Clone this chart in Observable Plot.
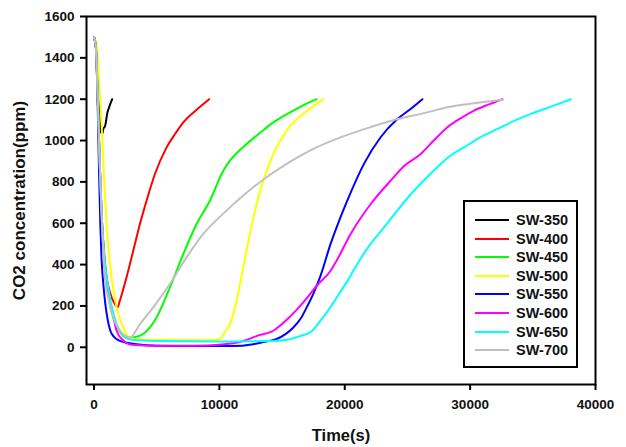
<!DOCTYPE html>
<html>
<head>
<meta charset="utf-8">
<script src="https://cdn.jsdelivr.net/npm/d3@7"></script>
<script src="https://cdn.jsdelivr.net/npm/@observablehq/plot@0.6"></script>
<style>
  html, body { margin: 0; padding: 0; background: #fff; }
  #wrap { position: relative; width: 626px; height: 447px; font-family: Arial, "Liberation Sans", sans-serif; }
  #wrap svg text { font-weight: bold; fill: #111; }
  #wrap g[aria-label="x-axis label"] text { font-size: 16.5px; }
  #wrap g[aria-label="y-axis label"] text { font-size: 17px; }
  #legend { position: absolute; left: 463px; top: 200px; width: 111px; height: 164px; border: 2px solid #000; background: #fff; }
  .row { position: absolute; left: 0; height: 18px; width: 111px; }
  .sw { position: absolute; left: 10px; top: 8px; width: 34px; height: 2px; }
  .lab { position: absolute; left: 51px; top: 0; font-weight: bold; font-size: 14.5px; line-height: 18px; color: #111; }
</style>
</head>
<body>
<div id="wrap"></div>
<script>
const names = ["SW-350","SW-400","SW-450","SW-500","SW-550","SW-600","SW-650","SW-700"];
const colors = ["#000000","#ff0000","#00ff00","#ffff00","#0000ff","#ff00ff","#00ffff","#c0c0c0"];
const xTicks = [0, 10000, 20000, 30000, 40000];
const yTicks = [0, 200, 400, 600, 800, 1000, 1200, 1400, 1600];

const t350 = [0,150,300,450,560,650,760,850,920,1050,1200,1450];
const c350 = [1500,1450,1250,1100,1040,1032,1060,1065,1080,1130,1160,1200];

const t400 = [0,150,300,450,600,800,1000,1300,1600,1880,2060,2590,3130,3660,4190,4860,5790,6500,7120,8200,9190];
const c400 = [1500,1450,1200,900,650,460,340,260,215,193,225,338,467,596,709,838,967,1035,1088,1150,1200];

const t450 = [0,150,300,450,600,800,1000,1200,1450,1720,2000,2330,2700,3130,3920,4990,6050,7120,8180,9240,10310,10840,12170,13200,14300,15890,17000,17760];
const c450 = [1500,1450,1200,900,650,450,320,230,160,112,80,55,45,47,64,144,289,451,596,709,854,903,983,1035,1088,1145,1180,1200];

const t500 = [0,200,400,600,800,1000,1200,1400,1600,1800,2100,2460,2700,3200,5000,8000,9500,10040,10400,10840,11370,11900,12430,12970,13500,14300,15360,16690,17600,18290];
const c500 = [1500,1470,1300,1080,820,596,450,338,260,193,130,80,55,40,36,35,35,40,70,112,225,386,548,693,806,935,1048,1129,1170,1200];

const t550 = [0,150,300,400,500,600,750,900,1100,1300,1600,2060,2600,3390,5000,8000,11000,12700,13500,14560,15300,15900,16500,16960,17500,18020,18870,19350,20200,21530,22860,24200,25200,26190];
const c550 = [1500,1450,1150,850,600,430,300,210,130,80,50,31,22,15,8,6,6,15,25,40,65,96,140,193,260,338,500,580,709,887,1016,1104,1150,1200];

const t600 = [0,150,300,450,600,750,950,1150,1400,1800,2300,3000,5000,8000,10000,11900,13000,14300,15500,16690,17800,18870,19350,20470,22070,23660,24800,26060,27100,28190,29300,30310,31500,32580];
const c600 = [1500,1450,1200,900,650,470,330,250,193,80,35,12,7,7,12,30,55,80,140,217,300,370,419,548,693,806,880,935,1000,1064,1110,1145,1175,1200];

const t650 = [0,150,300,450,600,800,1000,1130,1400,1800,2300,3000,5000,10000,14000,15500,16500,17300,18020,18870,19350,20200,21000,22000,23130,24300,25520,26600,27650,28500,29510,30800,32180,33500,34840,36500,38030];
const c650 = [1500,1450,1200,900,650,450,340,290,200,112,60,36,30,28,30,38,55,75,125,195,240,320,403,495,580,670,757,825,887,930,967,1015,1056,1095,1129,1165,1200];

const t700 = [0,150,300,450,600,870,1200,1530,1900,2330,2860,3700,4720,6050,7380,8710,10570,12700,15360,17500,19350,21800,24200,26500,28190,30500,32580];
const c700 = [1500,1450,1200,900,650,338,220,144,95,64,47,115,193,306,435,548,661,774,887,960,1008,1060,1104,1135,1161,1182,1197];

const ts = [t350,t400,t450,t500,t550,t600,t650,t700];
const cs = [c350,c400,c450,c500,c550,c600,c650,c700];

const data = [];
names.forEach((n, i) => ts[i].forEach((t, j) => data.push({name: n, t, c: cs[i][j]})));

const chart = Plot.plot({
  width: 626,
  height: 447,
  marginLeft: 86,
  marginRight: 31,
  marginTop: 16,
  marginBottom: 63,
  style: {fontFamily: "Arial, 'Liberation Sans', sans-serif", fontSize: "13.5px", background: "#fff", color: "#000"},
  x: {domain: [-600, 40000], ticks: xTicks, tickSize: 6, tickPadding: 9, tickFormat: d => String(d),
      label: "Time(s)", labelAnchor: "center", labelOffset: 56},
  y: {domain: [-180, 1600], ticks: yTicks, tickSize: 6, tickPadding: 6, tickFormat: d => String(d),
      label: "CO2 concentration(ppm)", labelAnchor: "center", labelOffset: 74},
  color: {domain: names, range: colors},
  marks: [
    Plot.line(data, {x: "t", y: "c", z: "name", stroke: "name", strokeWidth: 2, curve: "monotone-x"}),
    Plot.frame({stroke: "#000", strokeWidth: 2})
  ]
});
chart.querySelectorAll('g[aria-label="x-axis tick"], g[aria-label="y-axis tick"]').forEach(g => g.setAttribute("stroke-width", 2));
chart.querySelectorAll('g[aria-label="x-axis label"] text, g[aria-label="y-axis label"] text').forEach(t => {
  t.textContent = t.textContent.replace(/\s*[→↑←↓]\s*/g, "").trim();
});
document.getElementById("wrap").appendChild(chart);

const legend = document.createElement("div");
legend.id = "legend";
names.forEach((n, i) => {
  const row = document.createElement("div");
  row.className = "row";
  row.style.top = Math.round(9 + i * 18.6) + "px";
  const sw = document.createElement("div");
  sw.className = "sw";
  sw.style.background = colors[i];
  const lab = document.createElement("div");
  lab.className = "lab";
  lab.textContent = n;
  row.appendChild(sw);
  row.appendChild(lab);
  legend.appendChild(row);
});
document.getElementById("wrap").appendChild(legend);
</script>
</body>
</html>
